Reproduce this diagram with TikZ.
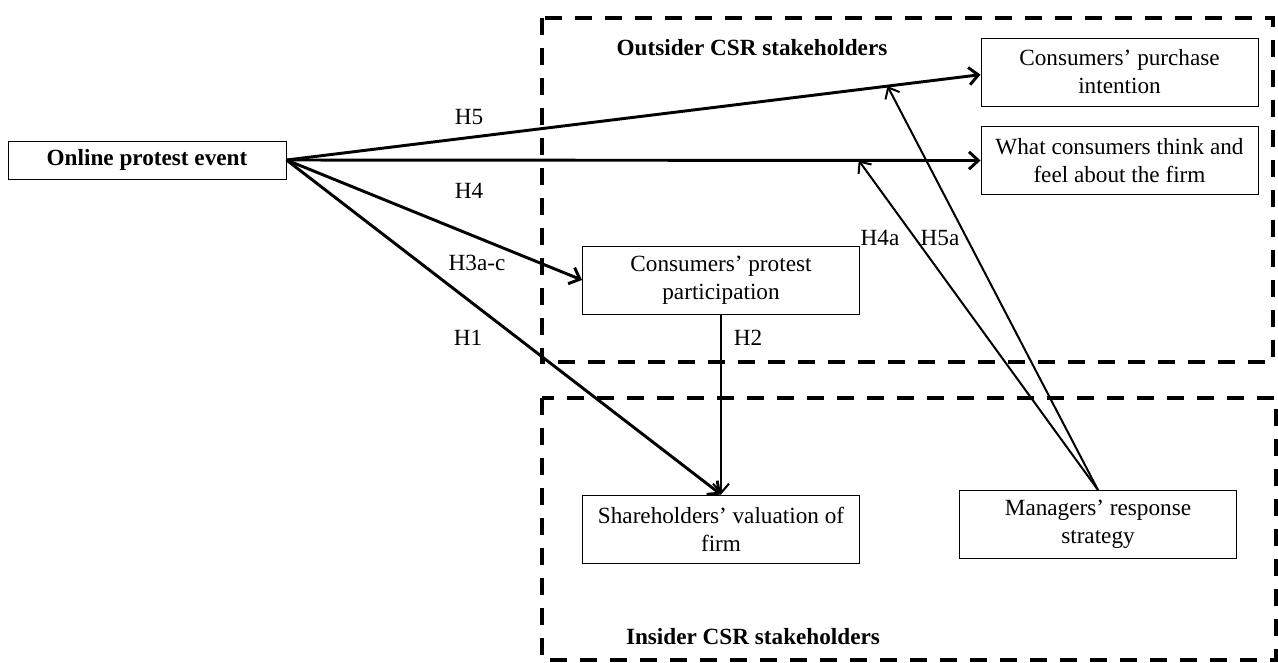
\documentclass[tikz,border=0pt]{standalone}
\usepackage{fontspec}
\setmainfont{Liberation Serif}
\usetikzlibrary{positioning,arrows.meta}

\tikzset{
  txt/.style={font=\fontsize{17.4}{21}\selectfont},
  box/.style={txt, draw, line width=0.75pt, align=center, minimum width=207.75pt, minimum height=51pt, inner sep=2pt},
  group/.style={draw, line width=3.4pt, dash pattern=on 13pt off 9.5pt},
  hyp/.style={-{Straight Barb[length=7pt,width=13pt]}, line width=2.2pt},
  resp/.style={-{Straight Barb[length=7pt,width=12pt]}, line width=1.5pt},
}

\begin{document}
\begin{tikzpicture}[x=0.75pt,y=-0.75pt]
\useasboundingbox (0,0) rectangle (1278,662);
% stakeholder groups
\draw[group] (542,18) rectangle (1273,362);
\draw[group] (542,398) rectangle (1276,660);
\node[txt,font=\fontsize{17.4}{21}\selectfont\bfseries] (outlab) at (752,48) {Outsider CSR stakeholders};
\node[txt,font=\fontsize{17.4}{21}\selectfont\bfseries] (inlab) at (753,637) {Insider CSR stakeholders};

% constructs
\node[box,minimum width=208.5pt,minimum height=28.5pt,font=\fontsize{17.4}{21}\selectfont\bfseries] (event) at (147,160) {Online protest event};
\node[box] (purchase) at (1119.5,72) {Consumers' purchase\\intention};
\node[box] (think) at (1119.5,160.5) {What consumers think and\\feel about the firm};
\node[box] (partic) at (721,280) {Consumers' protest\\participation};
\node[box] (share) at (721,529) {Shareholders' valuation of\\firm};
\node[box] (manager) at (1098,524.5) {Managers' response\\strategy};

% hypotheses
\draw[hyp] (event.east) -- coordinate[pos=0.866] (h5pt) ([yshift=-2pt]purchase.west);
\draw[hyp] (event.east) -- coordinate[pos=0.8245] (h4pt) (think.west);
\draw[hyp] (event.east) -- (partic.west);
\draw[hyp] (event.east) -- (share.north);
\draw[resp] (partic.south) -- (share.north);
\draw[resp] (manager.north) -- (h4pt);
\draw[resp] (manager.north) -- (h5pt);

% labels
\node[txt] (l5) at (469,117) {H5};
\node[txt] (l4) at (469,191) {H4};
\node[txt] (l3) at (477,263) {H3a-c};
\node[txt] (l1) at (468,338) {H1};
\node[txt] (l2) at (748,338) {H2};
\node[txt] (l4a) at (880,238) {H4a};
\node[txt] (l5a) at (940,238) {H5a};
\end{tikzpicture}
\end{document}
